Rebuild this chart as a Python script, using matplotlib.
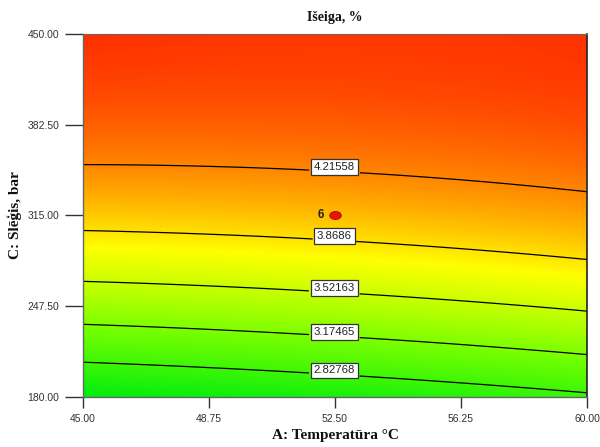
import numpy as np
import matplotlib
matplotlib.use("Agg")
import matplotlib.pyplot as plt
from matplotlib.colors import LinearSegmentedColormap
from matplotlib.path import Path
from matplotlib.transforms import Affine2D

# Factor ranges
temp_range = [45.0, 60.0]        # A: Temperatūra °C
press_range = [180.0, 450.0]     # C: Slēģis, bar

# Fitted response model in coded units (a, c in [-1, 1])
# R = b0 + bA*a + bC*c + bAC*a*c + bAA*a^2 + bCC*c^2
coef_names = ["b0", "bA", "bC", "bAC", "bAA", "bCC"]
coef_vals = [4.0078, 0.075, 0.9615, -0.081, 0.025, -0.44]

# Contour levels shown on the plot
levels = [2.82768, 3.17465, 3.52163, 3.8686, 4.21558]
level_text = ["2.82768", "3.17465", "3.52163", "3.8686", "4.21558"]

# Design point
design_temp = [52.5]
design_press = [315.0]
design_label = ["6"]

x_ticks = [45.00, 48.75, 52.50, 56.25, 60.00]
y_ticks = [180.00, 247.50, 315.00, 382.50, 450.00]

coef = dict(zip(coef_names, coef_vals))


def response(A, C):
    a = (A - 52.5) / 7.5
    c = (C - 315.0) / 135.0
    return (coef["b0"] + coef["bA"] * a + coef["bC"] * c
            + coef["bAC"] * a * c + coef["bAA"] * a ** 2
            + coef["bCC"] * c ** 2)


A = np.linspace(temp_range[0], temp_range[1], 300)
C = np.linspace(press_range[0], press_range[1], 400)
AA, CC = np.meshgrid(A, C)
R = response(AA, CC)

cmap = LinearSegmentedColormap.from_list(
    "gyr",
    [(0.0, (0.0, 0.93, 0.05)),
     (0.33, (0.48, 1.0, 0.0)),
     (0.62, (1.0, 1.0, 0.0)),
     (0.84, (1.0, 0.52, 0.0)),
     (1.0, (1.0, 0.19, 0.0))])

fig = plt.figure(figsize=(6.0, 4.47), dpi=100)
ax = fig.add_axes([83 / 600, 50 / 447, 504 / 600, 363 / 447])

ax.pcolormesh(AA, CC, R, cmap=cmap, shading="gouraud",
              vmin=R.min(), vmax=R.max())
cs = ax.contour(AA, CC, R, levels=levels, colors="black", linewidths=0.9)

fmt = dict(zip(levels, level_text))
manual = [(52.5, 206), (52.5, 234), (52.5, 267), (52.5, 304), (52.5, 354)]
labels = ax.clabel(cs, levels=levels, fmt=fmt, manual=manual, inline=True,
                   inline_spacing=2, fontsize=8.2)
for t in labels:
    x, y = t.get_position()
    # labels sit just above their contour line
    t.set_position((x, y + 3.0))
    t.set_rotation(0)
    t.set_color("#222222")
    t.set_family("Liberation Sans")
    t.set_bbox(dict(boxstyle="square,pad=0.25", facecolor="white",
                    edgecolor="#333333", linewidth=0.9))

# Slightly flattened ellipse marker for the design point
ellipse = Path.unit_circle().transformed(Affine2D().scale(1.45, 1.0))
ax.scatter(design_temp, design_press, s=70, marker=ellipse, color="#ee1100",
           edgecolors="#991100", linewidths=0.6, zorder=5)
for x, y, s in zip(design_temp, design_press, design_label):
    ax.annotate(s, (x, y), xytext=(-10, 0.5), textcoords="offset points",
                ha="center", va="center", fontsize=8.5, fontweight="bold",
                family="Liberation Sans", color="#222222")

ax.set_xlim(temp_range)
ax.set_ylim(press_range)
ax.set_xticks(x_ticks)
ax.set_yticks(y_ticks)
ax.set_xticklabels([f"{v:.2f}" for v in x_ticks])
ax.set_yticklabels([f"{v:.2f}" for v in y_ticks])
ax.tick_params(direction="out", width=1.0, color="#333333",
               labelsize=7.5, labelcolor="#333333")
ax.tick_params(axis="x", length=8, pad=4)
ax.tick_params(axis="y", length=13, pad=4)
for lab in ax.get_xticklabels() + ax.get_yticklabels():
    lab.set_family("Liberation Sans")

for side in ["left", "bottom"]:
    ax.spines[side].set_color("#666666")
    ax.spines[side].set_linewidth(1.0)
ax.spines["top"].set_color("#666666")
ax.spines["right"].set_color("#222222")
ax.spines["right"].set_linewidth(1.2)

ax.set_xlabel("A: Temperatūra °C", family="Liberation Serif",
              fontweight="bold", fontsize=11, color="#111111", labelpad=4)
ax.set_ylabel("C: Slēģis, bar", family="Liberation Serif",
              fontweight="bold", fontsize=11, color="#111111", labelpad=4)
ax.set_title("Išeiga, %", family="Liberation Serif", fontweight="bold",
             fontsize=10, color="#111111", pad=9)

fig.savefig("out.png", dpi=100)
